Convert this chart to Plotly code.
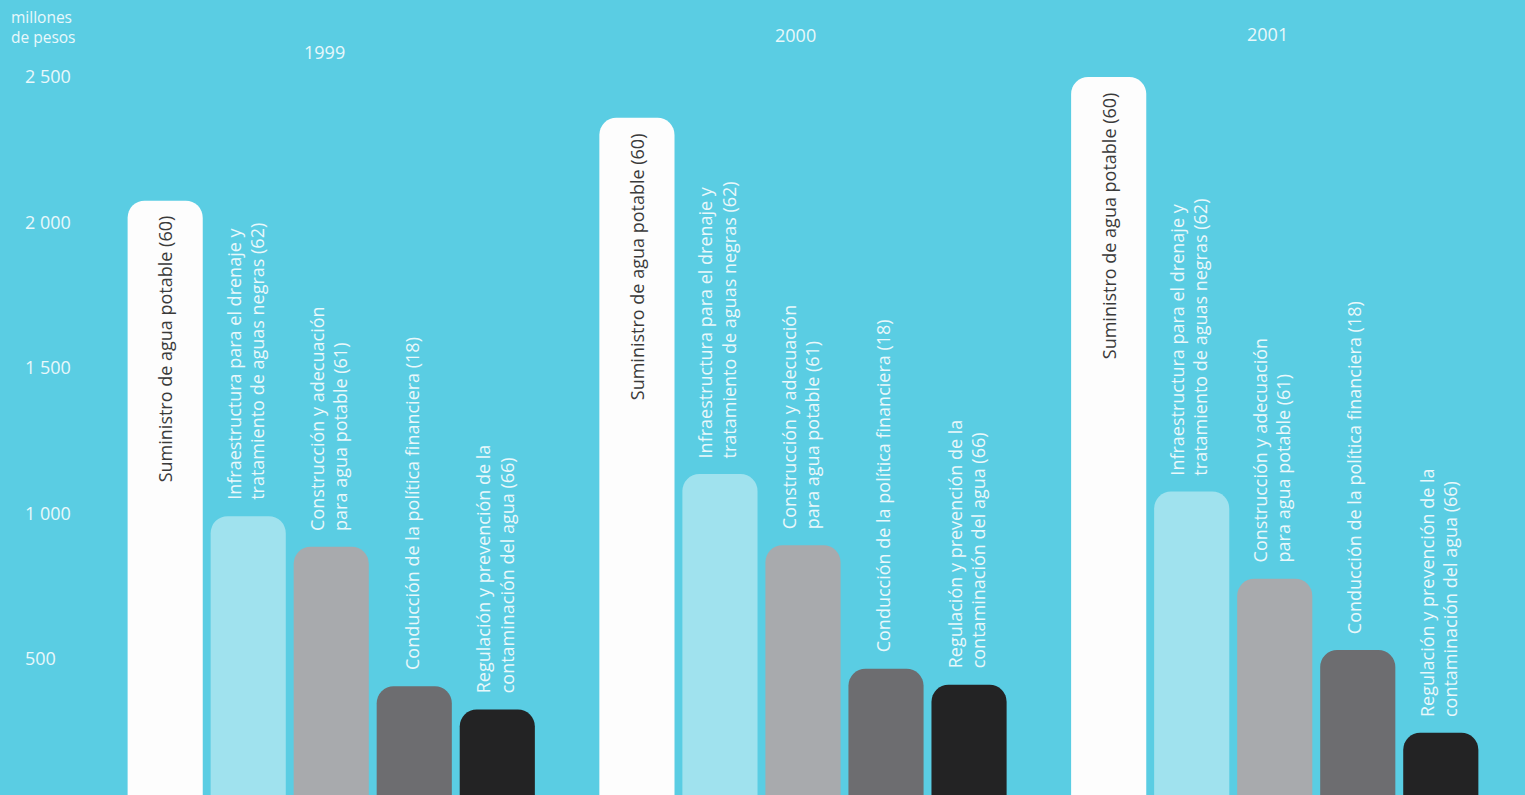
import plotly.graph_objects as go

# Spending by programme (millones de pesos)
years = ["1999", "2000", "2001"]
programas = [
    "Suministro de agua potable (60)",
    "Infraestructura para el drenaje y<br>tratamiento de aguas negras (62)",
    "Construcción y adecuación<br>para agua potable (61)",
    "Conducción de la política financiera (18)",
    "Regulación y prevención de la<br>contaminación del agua (66)",
]
suministro = [2075, 2360, 2500]
infraestructura = [990, 1135, 1075]
construccion = [885, 890, 775]
conduccion = [405, 465, 530]
regulacion = [325, 410, 245]
series = [suministro, infraestructura, construccion, conduccion, regulacion]

tick_vals = [500, 1000, 1500, 2000, 2500]
tick_text = ["500", "1 000", "1 500", "2 000", "2 500"]

# styling
BG = "#5acde3"
bar_colors = ["#fdfdfd", "#a0e2ee", "#a8aaad", "#6d6d70", "#232324"]
LABEL_LIGHT = "#e9f8fb"
LABEL_DARK = "#3a3a3a"
FONT = "Open Sans"
BARGAP = 0.12
BARGROUPGAP = 0.095
N = len(series)

fig = go.Figure()
for name, vals, col in zip(programas, series, bar_colors):
    fig.add_trace(go.Bar(
        x=years, y=vals, name=name.replace("<br>", " "),
        marker=dict(color=col, line=dict(width=0), cornerradius=17),
        hoverinfo="x+y+name",
    ))

# rotated programme labels: inside the white bar, above the others
slot = (1 - BARGAP) / N
for i, yr in enumerate(years):
    for j, (name, vals) in enumerate(zip(programas, series)):
        xpos = i + (j - (N - 1) / 2) * slot
        if j == 0:
            fig.add_annotation(
                x=xpos, y=vals[i], xref="x", yref="y", text=name,
                textangle=-90, showarrow=False, xanchor="center",
                yanchor="top", yshift=-13, align="left",
                font=dict(family=FONT, size=18, color=LABEL_DARK),
            )
        else:
            fig.add_annotation(
                x=xpos, y=vals[i], xref="x", yref="y", text=name,
                textangle=-90, showarrow=False, xanchor="center",
                yanchor="bottom", yshift=14, xshift=-3, align="left",
                font=dict(family=FONT, size=18, color=LABEL_LIGHT),
            )

# year headings
year_label_top = [52, 35, 34]
for i, yr in enumerate(years):
    fig.add_annotation(
        x=i, y=1 - year_label_top[i] / 795, xref="x", yref="paper",
        text=yr, showarrow=False, xshift=-7, xanchor="center",
        yanchor="middle",
        font=dict(family=FONT, size=18, color=LABEL_LIGHT),
    )

# unit caption
fig.add_annotation(
    x=0, y=1, xref="paper", yref="paper", xshift=-13, yshift=-4,
    text="millones<br>de pesos", showarrow=False, xanchor="left",
    yanchor="top", align="left",
    font=dict(family=FONT, size=15.5, color=LABEL_LIGHT),
)

fig.update_layout(
    width=1525, height=795,
    margin=dict(l=22, r=0, t=0, b=0),
    paper_bgcolor=BG, plot_bgcolor=BG,
    barmode="group", bargap=BARGAP, bargroupgap=BARGROUPGAP,
    showlegend=False,
    xaxis=dict(type="category", range=[-0.6555, 2.5305],
               showticklabels=False, showgrid=False, zeroline=False,
               showline=False, ticks=""),
    yaxis=dict(range=[31, 2765], tickvals=tick_vals, ticktext=tick_text,
               ticklabelposition="inside", ticklabeloverflow="allow",
               showgrid=False, zeroline=False, showline=False, ticks="",
               tickfont=dict(family=FONT, size=18, color=LABEL_LIGHT)),
)

fig.write_html("out.html")
